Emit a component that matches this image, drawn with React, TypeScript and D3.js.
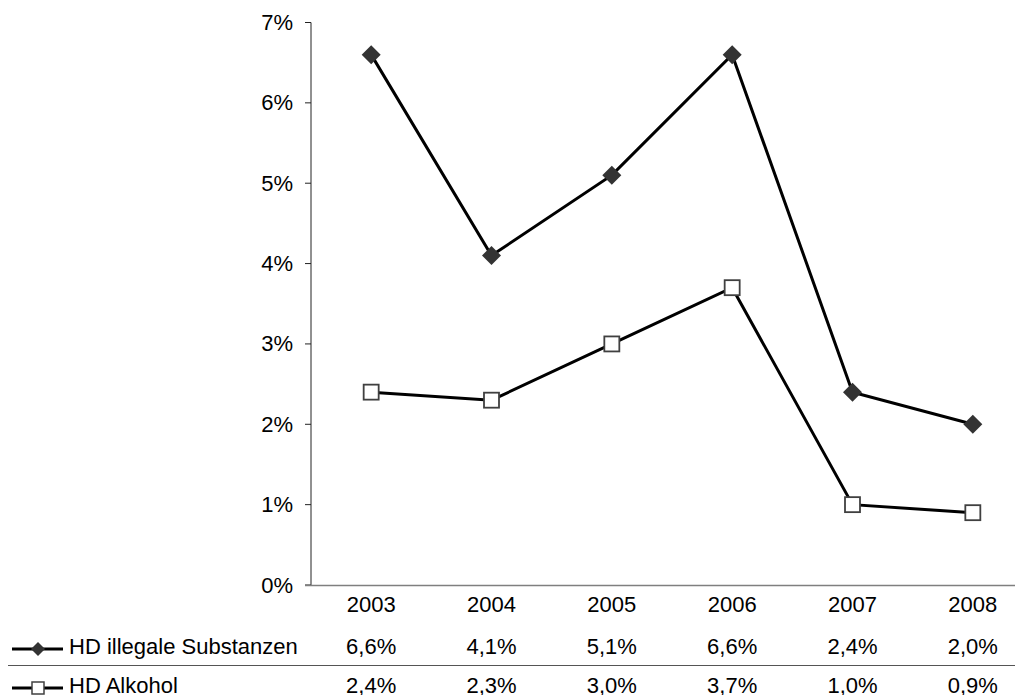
import React from "react";
import * as d3 from "d3";

const years = ["2003", "2004", "2005", "2006", "2007", "2008"];
const illegal = [6.6, 4.1, 5.1, 6.6, 2.4, 2.0];
const alcohol = [2.4, 2.3, 3.0, 3.7, 1.0, 0.9];
const yTicks = [0, 1, 2, 3, 4, 5, 6, 7];
const seriesNames = ["HD illegale Substanzen", "HD Alkohol"];

const W = 1019;
const H = 695;
const font = "'Liberation Sans', Arial, sans-serif";
const FS = 22;

export default function App() {
  const x = d3.scaleBand<string>().domain(years).range([311, 1033]);
  const y = d3.scaleLinear().domain([0, 7]).range([585, 22.5]);
  const cx = (d: string) => (x(d) as number) + x.bandwidth() / 2;
  const line = d3
    .line<number>()
    .x((_, i) => cx(years[i]))
    .y((v) => y(v));
  const fmt = (v: number) => v.toFixed(1).replace(".", ",") + "%";
  const diamond = (px: number, py: number, r: number) =>
    `M${px},${py - r}L${px + r},${py}L${px},${py + r}L${px - r},${py}Z`;
  const markerY = [649, 688];
  const textBase = [653.5, 692.5];

  return (
    <svg
      width={W}
      height={H}
      style={{ position: "absolute", left: 0, top: 0, background: "#fff" }}
      fontFamily={font}
    >
      {/* y axis */}
      <line x1={311} x2={311} y1={22.5} y2={585} stroke="#222" strokeWidth={1} />
      {yTicks.map((t) => (
        <g key={t}>
          <line x1={305} x2={311} y1={y(t)} y2={y(t)} stroke="#222" strokeWidth={1} />
          <text x={293} y={y(t) + 7.5} textAnchor="end" fontSize={FS} fill="#000">
            {t}%
          </text>
        </g>
      ))}
      {/* x axis */}
      <line x1={305} x2={1015} y1={585.5} y2={585.5} stroke="#7f7f7f" strokeWidth={1.5} />
      {years.map((yr) => (
        <text key={yr} x={cx(yr)} y={611.5} textAnchor="middle" fontSize={FS} fill="#000">
          {yr}
        </text>
      ))}
      {/* lines */}
      <path d={line(illegal) || ""} fill="none" stroke="#000" strokeWidth={3} />
      <path d={line(alcohol) || ""} fill="none" stroke="#000" strokeWidth={3} />
      {illegal.map((v, i) => (
        <path key={"d" + i} d={diamond(cx(years[i]), y(v), 9.5)} fill="#333" />
      ))}
      {alcohol.map((v, i) => (
        <rect
          key={"s" + i}
          x={cx(years[i]) - 7.5}
          y={y(v) - 7.5}
          width={15}
          height={15}
          fill="#fff"
          stroke="#404040"
          strokeWidth={1.8}
        />
      ))}
      {/* data table */}
      <line x1={8} x2={1015} y1={665.5} y2={665.5} stroke="#555" strokeWidth={1} />
      {[illegal, alcohol].map((arr, r) => (
        <g key={"row" + r}>
          <line x1={12} x2={63} y1={markerY[r]} y2={markerY[r]} stroke="#000" strokeWidth={3} />
          {r === 0 ? (
            <path d={diamond(38, markerY[r], 7)} fill="#333" />
          ) : (
            <rect x={32} y={markerY[r] - 6} width={12} height={12} fill="#fff" stroke="#404040" strokeWidth={1.5} />
          )}
          <text x={69} y={textBase[r]} fontSize={FS} fill="#000">
            {seriesNames[r]}
          </text>
          {arr.map((v, i) => (
            <text key={i} x={cx(years[i])} y={textBase[r]} textAnchor="middle" fontSize={FS} fill="#000">
              {fmt(v)}
            </text>
          ))}
        </g>
      ))}
    </svg>
  );
}
